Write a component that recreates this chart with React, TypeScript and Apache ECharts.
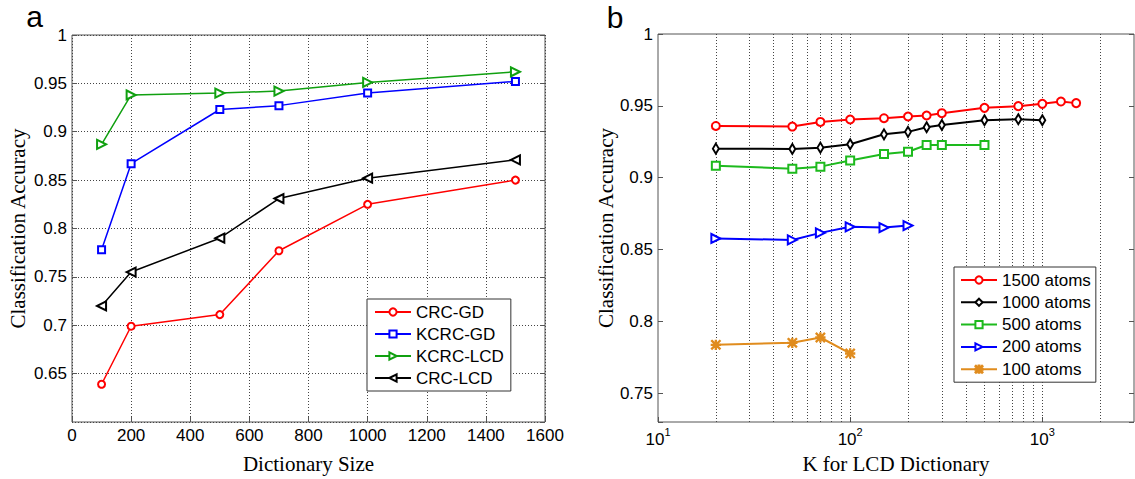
import React, { useEffect, useRef } from 'react';
import * as echarts from 'echarts';

// ---- Panel a data ----
const dictSizes = [100, 200, 500, 700, 1000, 1500];
const crcGD = [0.639, 0.699, 0.711, 0.777, 0.825, 0.85];
const kcrcGD = [0.778, 0.867, 0.923, 0.927, 0.94, 0.952];
const kcrcLCD = [0.887, 0.938, 0.94, 0.942, 0.951, 0.962];
const crcLCD = [0.72, 0.755, 0.79, 0.831, 0.852, 0.871];

// ---- Panel b data ----
const k1500 = [20, 50, 70, 100, 150, 200, 250, 300, 500, 750, 1000, 1250, 1500];
const acc1500 = [0.936, 0.9356, 0.9388, 0.9405, 0.9414, 0.9426, 0.9433, 0.9449, 0.9486, 0.9498, 0.9514, 0.953, 0.9519];
const k1000 = [20, 50, 70, 100, 150, 200, 250, 300, 500, 750, 1000];
const acc1000 = [0.9202, 0.92, 0.9209, 0.9233, 0.9302, 0.9319, 0.9351, 0.9367, 0.94, 0.9407, 0.94];
const k500 = [20, 50, 70, 100, 150, 200, 250, 300, 500];
const acc500 = [0.9084, 0.9063, 0.9077, 0.9119, 0.9165, 0.9181, 0.9228, 0.9228, 0.9228];
const k200 = [20, 50, 70, 100, 150, 200];
const acc200 = [0.8577, 0.8567, 0.8616, 0.8658, 0.8653, 0.8667];
const k100 = [20, 50, 70, 100];
const acc100 = [0.7837, 0.7851, 0.7888, 0.7777];

// log-axis grid line positions (MATLAB minor + major grid)
const logGridK = [20, 30, 40, 50, 60, 70, 80, 90, 100, 200, 300, 400, 500, 600, 700, 800, 900, 1000, 2000];

const legendA = ['CRC-GD', 'KCRC-GD', 'KCRC-LCD', 'CRC-LCD'];
const legendB = ['1500 atoms', '1000 atoms', '500 atoms', '200 atoms', '100 atoms'];

const SANS = 'Liberation Sans, Arial, sans-serif';
const SERIF = 'Liberation Serif, Times New Roman, serif';
const ASTERISK =
  'path://M4.4,0H5.6V10H4.4Z M0,4.4H10V5.6H0Z M0.8,0L10,9.2L9.2,10L0,0.8Z M9.2,0L10,0.8L0.8,10L0,9.2Z';

const RED = '#FF0000';
const BLUE = '#0000FF';
const GREEN_A = '#10A010';
const GREEN_B = '#1DBA1D';
const BLACK = '#000000';
const ORANGE = '#E08C1E';

export default function App() {
  const ref = useRef<HTMLDivElement>(null);

  useEffect(() => {
    const chart = echarts.init(ref.current as HTMLDivElement, null, { renderer: 'svg' });
    const pairs = (xs: number[], ys: number[]) => xs.map((x, i) => [x, ys[i]]);
    const tickLabel = { color: '#000', fontFamily: SANS, fontSize: 17 };
    const dotted = { type: [1, 2] as any, color: '#444', width: 1 };
    const axisTick = { show: true, inside: true, length: 5, lineStyle: { color: '#555' } };
    const nameStyle = { color: '#000', fontFamily: SERIF, fontSize: 21 };

    const mkSeries = (
      name: string,
      xi: number,
      yi: number,
      data: number[][],
      color: string,
      symbol: string,
      size: any,
      rotate: number,
      width: number
    ) => ({
      name,
      type: 'line',
      xAxisIndex: xi,
      yAxisIndex: yi,
      data,
      symbol,
      symbolSize: size,
      symbolRotate: rotate,
      color,
      lineStyle: { color, width },
      itemStyle: { color, borderColor: color, borderWidth: 1.3 },
      z: 3,
    });

    const s1500: any = mkSeries('1500 atoms', 1, 2, pairs(k1500, acc1500), RED, 'emptyCircle', 8, 0, 2);
    s1500.markLine = {
      silent: true,
      z: 1,
      symbol: ['none', 'none'],
      label: { show: false },
      lineStyle: dotted,
      data: logGridK.map((v) => ({ xAxis: v })),
    };

    const option: any = {
      animation: false,
      backgroundColor: '#fff',
      graphic: [
        {
          type: 'text',
          x: 34.5,
          y: 16.5,
          style: { text: 'a', fontFamily: SANS, fontSize: 30, fill: '#000', align: 'center', verticalAlign: 'middle' },
        },
        {
          type: 'text',
          x: 615,
          y: 17.6,
          style: { text: 'b', fontFamily: SANS, fontSize: 30, fill: '#000', align: 'center', verticalAlign: 'middle' },
        },
      ],
      grid: [
        { left: 72, top: 35, width: 473, height: 387, show: true, borderColor: '#555', borderWidth: 1, backgroundColor: '#fff' },
        { left: 658, top: 34, width: 476, height: 388, show: true, borderColor: '#555', borderWidth: 1, backgroundColor: '#fff' },
      ],
      legend: [
        {
          data: legendA,
          orient: 'vertical',
          left: 367,
          top: 299,
          align: 'left',
          itemWidth: 36,
          itemHeight: 9,
          itemGap: 4,
          padding: [4, 7, 4, 7],
          borderColor: '#333',
          borderWidth: 1,
          backgroundColor: '#fff',
          selectedMode: false,
          textStyle: { fontFamily: SANS, fontSize: 17, color: '#000', lineHeight: 18 },
        },
        {
          data: legendB,
          orient: 'vertical',
          left: 954,
          top: 267,
          align: 'left',
          itemWidth: 36,
          itemHeight: 9,
          itemGap: 4.3,
          padding: [4, 5, 4, 6],
          borderColor: '#333',
          borderWidth: 1,
          backgroundColor: '#fff',
          selectedMode: false,
          textStyle: { fontFamily: SANS, fontSize: 17, color: '#000', lineHeight: 18 },
        },
      ],
      xAxis: [
        {
          gridIndex: 0,
          type: 'value',
          min: 0,
          max: 1600,
          interval: 200,
          name: 'Dictionary Size',
          nameLocation: 'middle',
          nameGap: 31,
          nameTextStyle: nameStyle,
          axisLine: { show: false },
          axisTick,
          axisLabel: { ...tickLabel, margin: 5, formatter: (v: number) => String(v) },
          splitLine: { show: true, lineStyle: dotted },
        },
        {
          gridIndex: 1,
          type: 'log',
          logBase: 10,
          min: 10,
          max: 3000,
          name: 'K for LCD Dictionary',
          nameLocation: 'middle',
          nameGap: 31,
          nameTextStyle: nameStyle,
          axisLine: { show: false },
          axisTick,
          axisLabel: {
            margin: 4,
            showMaxLabel: false,
            formatter: (v: number) => {
              const l = Math.log10(v);
              if (Math.abs(l - Math.round(l)) > 1e-6) return '';
              return '{b|10}{s|' + Math.round(l) + '}';
            },
            rich: {
              b: { fontFamily: SANS, fontSize: 17, color: '#000', padding: [5, 0, 0, 0], verticalAlign: 'bottom' },
              s: { fontFamily: SANS, fontSize: 11, color: '#000', verticalAlign: 'top' },
            },
          },
          splitLine: { show: false },
        },
      ],
      yAxis: [
        {
          gridIndex: 0,
          type: 'value',
          min: 0.6,
          max: 1,
          interval: 0.05,
          name: 'Classification Accuracy',
          nameLocation: 'middle',
          nameRotate: 90,
          nameGap: 44,
          nameTextStyle: nameStyle,
          axisLine: { show: false },
          axisTick,
          axisLabel: { ...tickLabel, margin: 5, showMinLabel: false },
          splitLine: { show: true, lineStyle: dotted },
        },
        {
          gridIndex: 0,
          type: 'value',
          position: 'right',
          min: 0.6,
          max: 1,
          interval: 0.05,
          axisLine: { show: false },
          axisTick,
          axisLabel: { show: false },
          splitLine: { show: false },
        },
        {
          gridIndex: 1,
          type: 'value',
          min: 0.73,
          max: 1,
          splitNumber: 5,
          minInterval: 0.05,
          maxInterval: 0.05,
          name: 'Classification Accuracy',
          nameLocation: 'middle',
          nameRotate: 90,
          nameGap: 38,
          nameTextStyle: nameStyle,
          axisLine: { show: false },
          axisTick,
          axisLabel: {
            ...tickLabel,
            margin: 5,
            formatter: (v: number) => {
              const q = v / 0.05;
              if (Math.abs(q - Math.round(q)) > 1e-6) return '';
              return String(Math.round(v * 100) / 100);
            },
          },
          splitLine: { show: false },
        },
        {
          gridIndex: 1,
          type: 'value',
          position: 'right',
          min: 0.73,
          max: 1,
          splitNumber: 5,
          minInterval: 0.05,
          maxInterval: 0.05,
          axisLine: { show: false },
          axisTick,
          axisLabel: { show: false },
          splitLine: { show: false },
        },
      ],
      series: [
        mkSeries('CRC-GD', 0, 0, pairs(dictSizes, crcGD), RED, 'emptyCircle', 7, 0, 1.5),
        mkSeries('KCRC-GD', 0, 0, pairs(dictSizes, kcrcGD), BLUE, 'emptyRect', 7, 0, 1.5),
        mkSeries('KCRC-LCD', 0, 0, pairs(dictSizes, kcrcLCD), GREEN_A, 'emptyTriangle', 9, -90, 1.5),
        mkSeries('CRC-LCD', 0, 0, pairs(dictSizes, crcLCD), BLACK, 'emptyTriangle', 9, 90, 1.5),
        s1500,
        mkSeries('1000 atoms', 1, 2, pairs(k1000, acc1000), BLACK, 'emptyDiamond', [6, 10], 0, 2),
        mkSeries('500 atoms', 1, 2, pairs(k500, acc500), GREEN_B, 'emptyRect', 8, 0, 2),
        mkSeries('200 atoms', 1, 2, pairs(k200, acc200), BLUE, 'emptyTriangle', 9, -90, 2),
        mkSeries('100 atoms', 1, 2, pairs(k100, acc100), ORANGE, ASTERISK, 9, 0, 2),
      ],
    };

    chart.setOption(option);
    return () => chart.dispose();
  }, []);

  return (
    <div
      ref={ref}
      style={{ position: 'absolute', left: 0, top: 0, width: 1135, height: 479, background: '#fff' }}
    />
  );
}
